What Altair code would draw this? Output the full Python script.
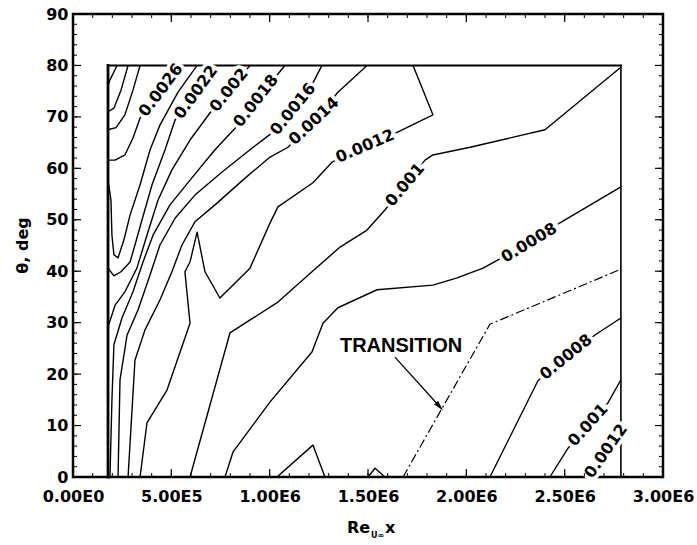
import altair as alt
import pandas as pd

FONT = "DejaVu Sans"

# Skin-friction (Cf) contour polylines: (Re_x, theta in deg)
contour_0032 = [(2.24e5, 80.0), (1.88e5, 77.2), (1.78e5, 76.0)]
contour_0030 = [(2.80e5, 80.0), (2.44e5, 75.2), (2.08e5, 71.7), (1.78e5, 71.0)]
contour_0028 = [(3.41e5, 80.0), (3.05e5, 75.2), (2.64e5, 70.4), (2.19e5, 67.9), (1.78e5, 67.5)]
contour_0026 = [(5.54e5, 80.0), (4.47e5, 75.2), (3.41e5, 69.8), (3.05e5, 65.9), (2.64e5, 62.6),
                (2.14e5, 61.6), (1.78e5, 61.6)]
contour_0024 = [(6.31e5, 80.0), (5.34e5, 74.8), (4.42e5, 68.4), (3.92e5, 63.6), (3.41e5, 56.8),
                (2.90e5, 50.9), (2.59e5, 46.1), (2.29e5, 42.6), (2.08e5, 43.2), (1.98e5, 47.0),
                (1.93e5, 53.8), (1.78e5, 57.7)]
contour_0022 = [(7.32e5, 80.0), (6.25e5, 74.8), (5.19e5, 69.4), (4.68e5, 63.6), (4.02e5, 56.8),
                (3.51e5, 50.0), (3.15e5, 45.1), (2.90e5, 41.8), (2.44e5, 39.9), (2.08e5, 39.1),
                (1.78e5, 40.6)]
contour_0020 = [(9.00e5, 80.0), (7.93e5, 75.2), (6.97e5, 70.8), (5.95e5, 65.5), (5.03e5, 59.7),
                (4.32e5, 53.8), (3.76e5, 47.0), (3.25e5, 40.6), (2.64e5, 36.0), (2.14e5, 33.4),
                (1.78e5, 29.2)]
contour_0018 = [(1.078e6, 80.0), (1.037e6, 78.1), (9.30e5, 73.1), (8.24e5, 67.8), (7.22e5, 63.6),
                (5.95e5, 57.7), (4.93e5, 52.9), (4.07e5, 47.0), (3.56e5, 41.8), (3.05e5, 36.0),
                (2.49e5, 30.9), (2.08e5, 25.7), (1.98e5, 15.0), (1.88e5, 0.0)]
contour_0016 = [(1.266e6, 80.0), (1.220e6, 76.6), (1.119e6, 71.5), (1.012e6, 66.9), (9.00e5, 63.6),
                (7.58e5, 59.3), (6.20e5, 54.8), (5.19e5, 50.3), (4.42e5, 45.1), (3.92e5, 39.3),
                (3.31e5, 32.5), (2.75e5, 27.6), (2.39e5, 18.9), (2.29e5, 0.0)]
contour_0014 = [(1.495e6, 80.0), (1.347e6, 74.8), (1.225e6, 69.2), (1.093e6, 64.1), (1.002e6, 62.2),
                (8.75e5, 58.1), (7.22e5, 52.9), (6.20e5, 49.6), (5.54e5, 45.1), (5.03e5, 39.9),
                (4.42e5, 34.4), (3.66e5, 28.6), (3.15e5, 22.7), (2.80e5, 0.0)]
contour_0012 = [(1.729e6, 80.0), (1.830e6, 70.4), (1.653e6, 67.1), (1.485e6, 64.3), (1.317e6, 61.2),
                (1.220e6, 57.2), (1.042e6, 52.5), (1.002e6, 49.4), (9.00e5, 40.6), (7.47e5, 34.8),
                (6.71e5, 39.9), (6.31e5, 47.6), (5.95e5, 41.8), (5.69e5, 39.9), (5.95e5, 29.9),
                (4.78e5, 16.9), (3.76e5, 10.5), (3.41e5, 0.0)]
contour_0010 = [(5.95e5, 0.0), (7.98e5, 28.0), (1.042e6, 34.0), (1.215e6, 39.9), (1.358e6, 44.7),
                (1.495e6, 48.0), (1.586e6, 51.9), (1.688e6, 56.8), (1.790e6, 61.6), (1.830e6, 62.6),
                (2.019e6, 64.1), (2.400e6, 67.5), (2.781e6, 79.5)]
contour_0008 = [(7.73e5, 0.0), (8.14e5, 4.9), (1.002e6, 14.6), (1.215e6, 24.3), (1.271e6, 29.9),
                (1.347e6, 32.9), (1.546e6, 36.4), (1.830e6, 37.3), (1.953e6, 38.7), (2.085e6, 40.6),
                (2.161e6, 42.2), (2.319e6, 45.5), (2.476e6, 49.4), (2.786e6, 56.4)]
low_a = [(1.037e6, 0.0), (1.220e6, 6.2), (1.281e6, 0.0)]
low_b = [(1.500e6, 0.0), (1.536e6, 1.7), (1.586e6, 0.0)]
turb_0008 = [(2.120e6, 0.0), (2.364e6, 18.7), (2.507e6, 23.3), (2.654e6, 27.6), (2.786e6, 30.9)]
turb_0010 = [(2.425e6, 0.0), (2.517e6, 5.6), (2.619e6, 10.1), (2.720e6, 14.4), (2.786e6, 18.9)]
turb_0012 = [(2.619e6, 0.0), (2.710e6, 5.05), (2.786e6, 8.7)]

# Transition onset (dash-dot) and the edges of the measured region
transition = [(1.678e6, 0.0), (2.120e6, 29.7), (2.786e6, 40.4)]
edge_left = [(1.78e5, 0.0), (1.78e5, 80.0)]
edge_top = [(1.78e5, 80.0), (2.786e6, 80.0)]
edge_right = [(2.786e6, 80.0), (2.786e6, 0.0)]

# Contour labels placed along their lines
label_text = ["0.0026", "0.0022", "0.002", "0.0018", "0.0016", "0.0014", "0.0012",
              "0.001", "0.0008", "0.0008", "0.001", "0.0012"]
label_x = [4.47e5, 6.25e5, 7.93e5, 9.30e5, 1.119e6, 1.225e6, 1.485e6,
           1.688e6, 2.319e6, 2.507e6, 2.619e6, 2.710e6]
label_y = [75.2, 74.8, 75.2, 73.1, 71.5, 69.2, 64.3, 56.8, 45.5, 23.3, 10.1, 5.05]
label_angle = [307, 306, 309, 308, 309, 317, 337, 310, 329, 321, 312, 305]

# TRANSITION annotation with its arrow
note_text = ["TRANSITION"]
note_x = [1.668e6]
note_y = [25.5]
arrow_line = [(1.637e6, 23.3), (1.864e6, 13.7)]
arrow_head_x = [1.864e6]
arrow_head_y = [13.7]

# Axis ticks and tick labels
x_label_vals = [0, 5e5, 1e6, 1.5e6, 2e6, 2.5e6, 3e6]
x_label_text = ["0.00E0", "5.00E5", "1.00E6", "1.50E6", "2.00E6", "2.50E6", "3.00E6"]
x_minor = [i * 1e5 for i in range(31)]
y_label_vals = [0, 10, 20, 30, 40, 50, 60, 70, 80, 90]
y_minor = [i * 2 for i in range(46)]

W, H = 590, 463


def pieces_frame(named):
    rows = []
    for name, pts in named.items():
        for i, (x, y) in enumerate(pts):
            rows.append({"piece": name, "seq": i, "x": x, "y": y})
    return pd.DataFrame(rows)


xs = alt.Scale(domain=[0, 3e6], nice=False, zero=False)
ys = alt.Scale(domain=[0, 90], nice=False, zero=False)

label_expr = "[" + ",".join(f"'{t}'" for t in x_label_text) + "][round(datum.value / 500000)]"

x_axis = alt.Axis(values=x_label_vals, labelExpr=label_expr, ticks=False, domain=False, grid=False,
                  labelFont=FONT, labelFontWeight="bold", labelFontSize=16, labelColor="#000000",
                  labelPadding=11, labelFlush=False, labelOverlap=False)
y_axis = alt.Axis(values=y_label_vals, ticks=False, domain=False, grid=False,
                  labelFont=FONT, labelFontWeight="bold", labelFontSize=16, labelColor="#000000",
                  labelPadding=5, labelOverlap=False, labelFlush=False,
                  titleFont=FONT, titleFontWeight="bold", titleFontSize=16,
                  titleColor="#000000", titleX=-51, titleY=231, titleAngle=270,
                  titleAlign="center", titleBaseline="middle")


def xq(field="x"):
    return alt.X(f"{field}:Q", scale=xs, axis=x_axis, title=None)


def yq(field="y"):
    return alt.Y(f"{field}:Q", scale=ys, axis=y_axis, title="θ, deg")


contour_df = pieces_frame({
    "c32": contour_0032, "c30": contour_0030, "c28": contour_0028, "c26": contour_0026,
    "c24": contour_0024, "c22": contour_0022, "c20": contour_0020, "c18": contour_0018,
    "c16": contour_0016, "c14": contour_0014, "c12": contour_0012, "c10": contour_0010,
    "c08": contour_0008, "la": low_a, "lb": low_b, "t08": turb_0008, "t10": turb_0010,
    "t12": turb_0012,
})

contours = alt.Chart(contour_df).mark_line(color="black", strokeWidth=1.4, strokeJoin="round").encode(
    x=xq(), y=yq(), detail="piece:N", order="seq:Q",
)

edge_df = pieces_frame({"left": edge_left, "top": edge_top, "right": edge_right})
edge_df["w"] = edge_df["piece"].map({"left": 2.8, "top": 2.0, "right": 1.6})
edges = alt.Chart(edge_df).mark_line(color="black", strokeCap="square").encode(
    x=xq(), y=yq(), detail="piece:N", order="seq:Q",
    strokeWidth=alt.StrokeWidth("w:Q", scale=None),
)

trans = alt.Chart(pieces_frame({"tr": transition})).mark_line(
    color="black", strokeWidth=1.2, strokeDash=[9, 3, 2, 3]
).encode(x=xq(), y=yq(), order="seq:Q")

arrow = alt.Chart(pieces_frame({"ar": arrow_line})).mark_line(color="black", strokeWidth=1.3).encode(
    x=xq(), y=yq(), order="seq:Q",
)
head = alt.Chart(pd.DataFrame({"x": arrow_head_x, "y": arrow_head_y})).mark_point(
    shape="M0,-1L0.5,1L-0.5,1Z", size=110, filled=True, color="black", opacity=1, angle=138
).encode(x=xq(), y=yq())

label_df = pd.DataFrame({"t": label_text, "x": label_x, "y": label_y, "a": label_angle})
halo = alt.Chart(label_df).mark_text(
    font=FONT, fontWeight="bold", fontSize=16, color="white", stroke="white", strokeWidth=7,
    align="center", baseline="middle",
).encode(x=xq(), y=yq(), text="t:N", angle=alt.Angle("a:Q", scale=None))
labels = alt.Chart(label_df).mark_text(
    font=FONT, fontWeight="bold", fontSize=16, color="black", align="center", baseline="middle",
).encode(x=xq(), y=yq(), text="t:N", angle=alt.Angle("a:Q", scale=None))

note = alt.Chart(pd.DataFrame({"t": note_text, "x": note_x, "y": note_y})).mark_text(
    font="Liberation Sans", fontWeight="bold", fontSize=20, color="black",
    align="center", baseline="middle",
).encode(x=xq(), y=yq(), text="t:N")

# Inward ticks on all four sides of the frame
xt_minor = alt.Chart(pd.DataFrame({"v": x_minor}))
xt_major = alt.Chart(pd.DataFrame({"v": x_label_vals}))
yt_minor = alt.Chart(pd.DataFrame({"v": y_minor}))
yt_major = alt.Chart(pd.DataFrame({"v": y_label_vals}))
tick_layers = [
    xt_minor.mark_rule(color="black", strokeWidth=1).encode(x=xq("v"), y=alt.value(H), y2=alt.value(H - 4)),
    xt_major.mark_rule(color="black", strokeWidth=1.2).encode(x=xq("v"), y=alt.value(H), y2=alt.value(H - 8)),
    xt_minor.mark_rule(color="black", strokeWidth=1).encode(x=xq("v"), y=alt.value(0), y2=alt.value(4)),
    xt_major.mark_rule(color="black", strokeWidth=1.2).encode(x=xq("v"), y=alt.value(0), y2=alt.value(8)),
    yt_minor.mark_rule(color="black", strokeWidth=1).encode(y=yq("v"), x=alt.value(0), x2=alt.value(4)),
    yt_major.mark_rule(color="black", strokeWidth=1.2).encode(y=yq("v"), x=alt.value(0), x2=alt.value(8)),
    yt_minor.mark_rule(color="black", strokeWidth=1).encode(y=yq("v"), x=alt.value(W), x2=alt.value(W - 4)),
    yt_major.mark_rule(color="black", strokeWidth=1.2).encode(y=yq("v"), x=alt.value(W), x2=alt.value(W - 8)),
]

# x-axis title Re_{U∞} x built from pieces so the subscript can be drawn small
title_style = dict(font=FONT, fontWeight="bold", color="black", align="left", baseline="alphabetic")
t_re = alt.Chart(pd.DataFrame({"t": ["Re"]})).mark_text(fontSize=16, **title_style).encode(
    x=alt.value(274), y=alt.value(519), text="t:N")
t_sub = alt.Chart(pd.DataFrame({"t": ["U∞"]})).mark_text(fontSize=8, **title_style).encode(
    x=alt.value(298), y=alt.value(524), text="t:N")
t_x = alt.Chart(pd.DataFrame({"t": ["x"]})).mark_text(fontSize=16, **title_style).encode(
    x=alt.value(312), y=alt.value(519), text="t:N")

chart = alt.layer(
    contours, edges, trans, arrow, head, halo, labels, note, *tick_layers, t_re, t_sub, t_x
).properties(
    width=W,
    height=H,
    autosize=alt.AutoSizeParams(type="none"),
    padding={"left": 73, "top": 14, "right": 34, "bottom": 68},
    background="white",
).configure_view(
    stroke="black", strokeWidth=2.5
)

chart.save("out.html", embed_options={"renderer": "svg", "actions": False})
